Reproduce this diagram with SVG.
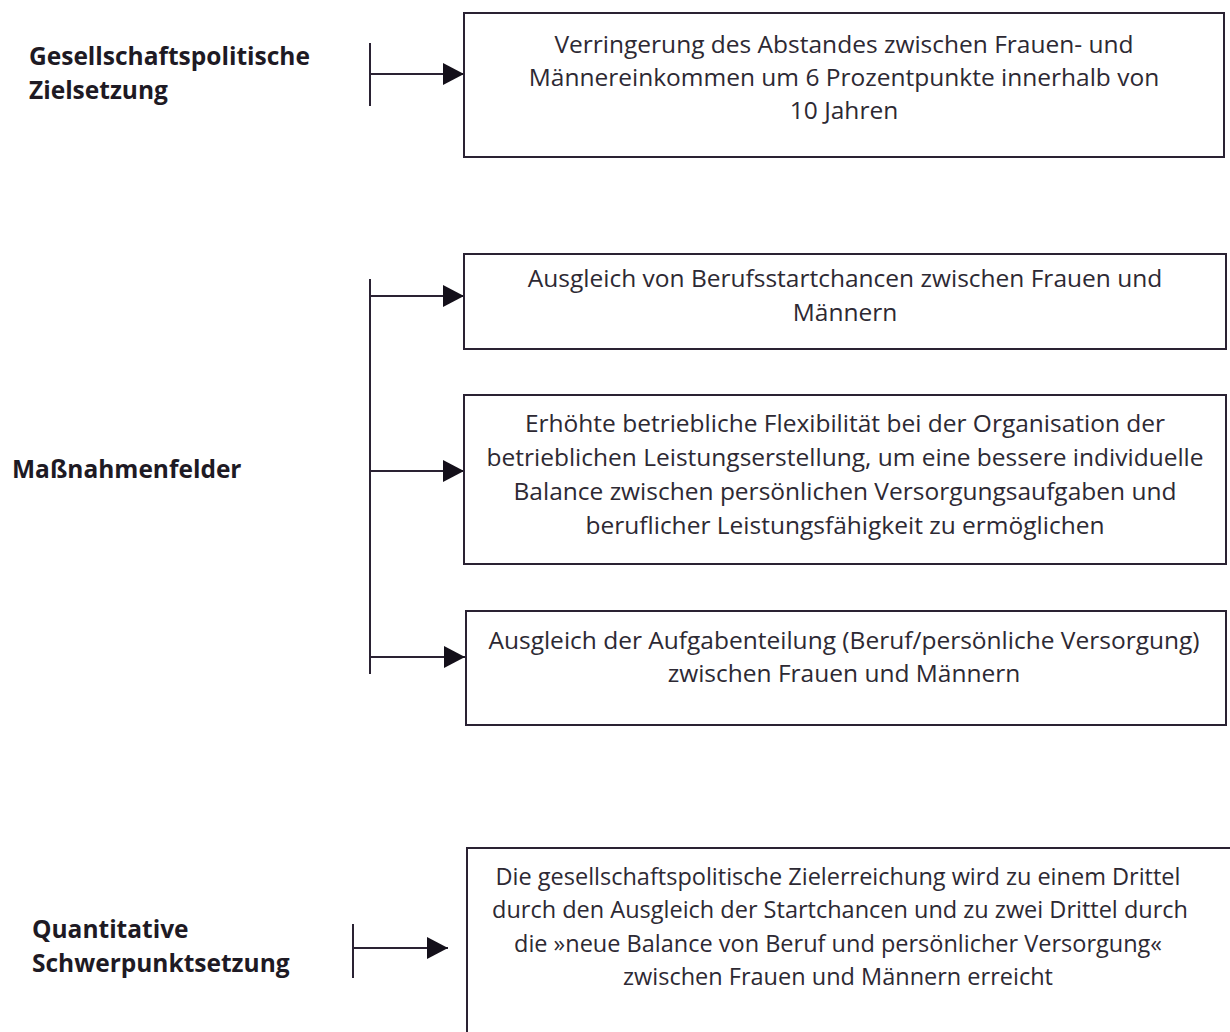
<svg xmlns="http://www.w3.org/2000/svg" width="1230" height="1032" viewBox="0 0 1230 1032">
<style>
.box{fill:#fff;stroke:#2a2233;stroke-width:2}
.t{font-family:"Open Sans","Noto Sans",sans-serif;font-size:24.5px;fill:#2d2933;text-anchor:middle}
.t5{font-size:23.5px}
.lbl{font-family:"Open Sans","Noto Sans",sans-serif;font-size:24.5px;font-weight:bold;fill:#1e1a24}
.ln{stroke:#2a2233;stroke-width:2;fill:none}
</style>
<defs>
<marker id="ah" markerWidth="21" markerHeight="22" refX="21" refY="11" orient="auto" markerUnits="userSpaceOnUse">
<path d="M0,0 L21,11 L0,22 Z" fill="#14101a"/>
</marker>
</defs>
<rect width="1230" height="1032" fill="#fff"/>
<g id="connectors">
<line class="ln" x1="370" y1="43" x2="370" y2="106"/>
<line class="ln" x1="370" y1="74" x2="464" y2="74" marker-end="url(#ah)"/>
<line class="ln" x1="370" y1="279" x2="370" y2="674"/>
<line class="ln" x1="370" y1="296" x2="464" y2="296" marker-end="url(#ah)"/>
<line class="ln" x1="370" y1="471" x2="464" y2="471" marker-end="url(#ah)"/>
<line class="ln" x1="370" y1="657" x2="465" y2="657" marker-end="url(#ah)"/>
<line class="ln" x1="353" y1="924" x2="353" y2="978"/>
<line class="ln" x1="353" y1="948" x2="448" y2="948" marker-end="url(#ah)"/>
</g>
<g id="label-ziel">
<text class="lbl" x="29" y="65">Gesellschaftspolitische</text>
<text class="lbl" x="29" y="99">Zielsetzung</text>
</g>
<g id="label-massnahmen">
<text class="lbl" x="12" y="478">Maßnahmenfelder</text>
</g>
<g id="label-quant">
<text class="lbl" x="32" y="938">Quantitative</text>
<text class="lbl" x="32" y="972">Schwerpunktsetzung</text>
</g>
<g id="box-ziel">
<rect class="box" x="464" y="13" width="760" height="144"/>
<text class="t" x="844" y="53">Verringerung des Abstandes zwischen Frauen- und</text>
<text class="t" x="844" y="86">Männereinkommen um 6 Prozentpunkte innerhalb von</text>
<text class="t" x="844" y="119">10 Jahren</text>
</g>
<g id="box-start">
<rect class="box" x="464" y="254" width="762" height="95"/>
<text class="t" x="845" y="287">Ausgleich von Berufsstartchancen zwischen Frauen und</text>
<text class="t" x="845" y="321">Männern</text>
</g>
<g id="box-flex">
<rect class="box" x="464" y="395" width="762" height="169"/>
<text class="t" x="845" y="432">Erhöhte betriebliche Flexibilität bei der Organisation der</text>
<text class="t" x="845" y="466">betrieblichen Leistungserstellung, um eine bessere individuelle</text>
<text class="t" x="845" y="500">Balance zwischen persönlichen Versorgungsaufgaben und</text>
<text class="t" x="845" y="534">beruflicher Leistungsfähigkeit zu ermöglichen</text>
</g>
<g id="box-aufgaben">
<rect class="box" x="466" y="611" width="760" height="114"/>
<text class="t" x="844" y="649">Ausgleich der Aufgabenteilung (Beruf/persönliche Versorgung)</text>
<text class="t" x="844" y="682">zwischen Frauen und Männern</text>
</g>
<g id="box-quant">
<rect class="box" x="467" y="848" width="780" height="200"/>
<text class="t t5" x="838" y="885">Die gesellschaftspolitische Zielerreichung wird zu einem Drittel</text>
<text class="t t5" x="840" y="918">durch den Ausgleich der Startchancen und zu zwei Drittel durch</text>
<text class="t t5" x="838" y="952">die »neue Balance von Beruf und persönlicher Versorgung«</text>
<text class="t t5" x="838" y="985">zwischen Frauen und Männern erreicht</text>
</g>
</svg>
